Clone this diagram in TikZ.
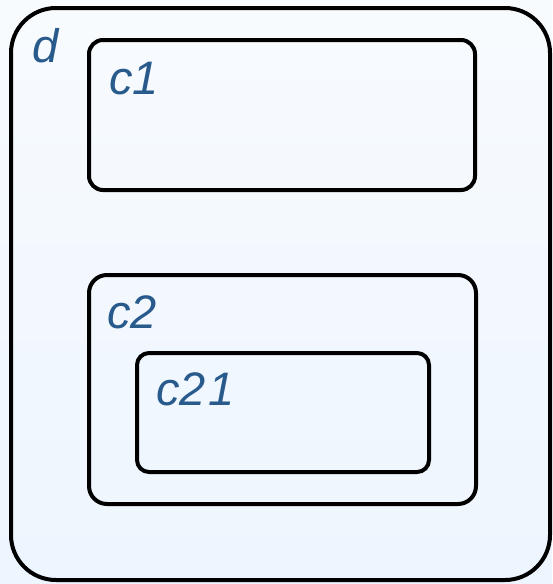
\documentclass[tikz,border=0pt]{standalone}
\usepackage{fontspec}
\setmainfont{Liberation Sans}
\definecolor{txtblue}{RGB}{40,90,140}
\definecolor{bgtop}{RGB}{248,251,254}
\definecolor{bgbot}{RGB}{237,245,254}
\tikzset{
  box/.style={draw=black, line width=4pt, rectangle, inner sep=0pt, outer sep=0pt},
  lbl/.style={anchor=base west, inner sep=0pt, text=txtblue, font=\fontsize{47}{52}\selectfont\itshape}
}
\begin{document}
\begin{tikzpicture}[x=1pt,y=-1pt]
\shade[top color=bgtop, bottom color=bgbot] (0,0) rectangle (552,584);
\useasboundingbox (0,0) rectangle (552,584);
\node[box, rounded corners=45pt, minimum width=539pt, minimum height=572pt] (d) at (280.5,294) {};
\node[box, rounded corners=14pt, minimum width=386pt, minimum height=150pt] (c1) at (282,115) {};
\node[box, rounded corners=18pt, minimum width=387pt, minimum height=229pt] (c2) at (282.5,389.5) {};
\node[box, rounded corners=12pt, minimum width=292pt, minimum height=119pt] (c21) at (283,412.5) {};
\node[lbl] (ld) at (32,62) {d};
\node[lbl] (lc1) at (109,94) {c1};
\node[lbl] (lc2) at (107,328) {c2};
\node[lbl] (lc21) at (156,405) {c2\kern3pt 1};
\end{tikzpicture}
\end{document}
